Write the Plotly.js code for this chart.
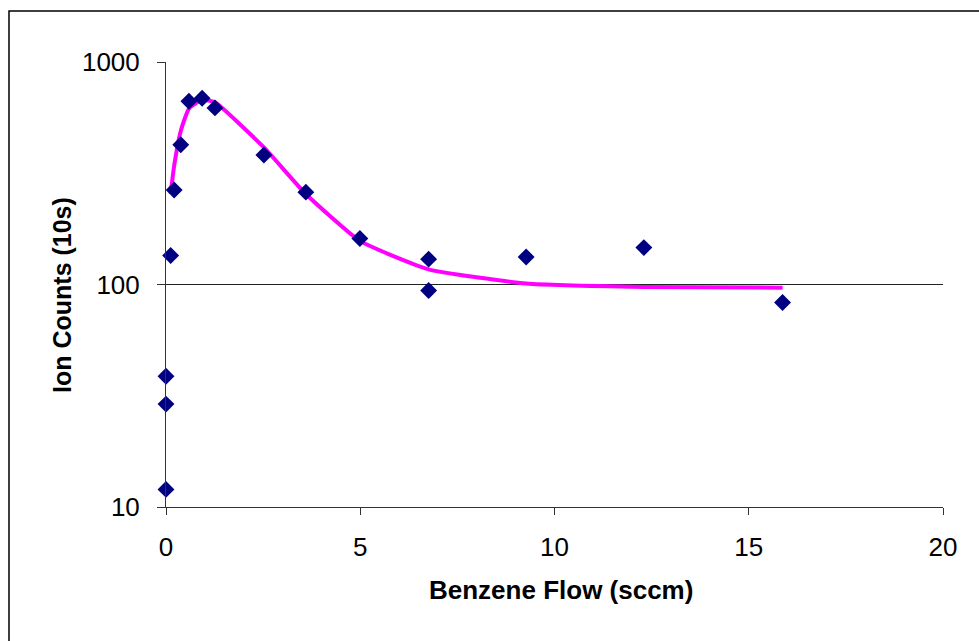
<!DOCTYPE html>
<html>
<head>
<meta charset="utf-8">
<script src="https://cdn.plot.ly/plotly-3.0.1.min.js"></script>
<style>
  html, body { margin: 0; padding: 0; background: #fff; }
  #chart { width: 979px; height: 641px; }
</style>
</head>
<body>
<div id="chart"></div>
<script>
// Measured data (Benzene flow in sccm, ion counts per 10 s)
const flowX = [0, 0, 0, 0.12, 0.21, 0.38, 0.59, 0.93, 1.26, 2.52, 3.60, 4.99, 6.76, 6.76, 9.27, 12.30, 15.87];
const ionCounts = [12, 29, 38.7, 135, 266, 425, 666, 687, 622, 382, 260, 161, 130, 94, 133, 146.5, 83];

// Smoothed trend line
const fitX = [0.12, 0.21, 0.38, 0.59, 0.93, 1.26, 2.52, 3.60, 4.99, 6.76, 9.27, 12.30, 15.87];
const fitY = [256, 342, 490, 617, 676, 659, 413, 255, 157, 117, 101, 97.5, 96.8];

const yTickVals = [10, 100, 1000];
const yTickText = ['10', '100', '1000'];
const xTickVals = [0, 5, 10, 15, 20];
const xTickText = ['0', '5', '10', '15', '20'];

const FONT = 'Liberation Sans, Arial, sans-serif';

const traces = [
  {
    x: fitX, y: fitY, mode: 'lines', type: 'scatter',
    line: { color: '#FF00FF', width: 4, shape: 'spline', smoothing: 0.45 },
    hoverinfo: 'skip', showlegend: false
  },
  {
    x: flowX, y: ionCounts, mode: 'markers', type: 'scatter',
    marker: { symbol: 'diamond', size: 13, color: '#000080' },
    showlegend: false, cliponaxis: false
  }
];

const L = 166, R = 943, T = 62, B = 507;
const W = R - L, H = B - T;
const px = v => (v - L) / W;
const py = v => (B - v) / H;

const layout = {
  width: 979, height: 641,
  margin: { l: L, r: 979 - R, t: T, b: 641 - B, pad: 0 },
  paper_bgcolor: '#ffffff', plot_bgcolor: '#ffffff',
  font: { family: FONT, color: '#000', size: 26 },
  showlegend: false,
  xaxis: {
    type: 'linear', range: [0, 20],
    tickvals: xTickVals, ticktext: xTickText,
    ticks: 'outside', ticklen: 7, tickwidth: 1, tickcolor: '#333',
    showline: true, linecolor: '#333', linewidth: 1,
    showgrid: false, zeroline: false,
    tickfont: { family: FONT, size: 26, color: '#000' },
    ticklabelstandoff: 10,
    fixedrange: true
  },
  yaxis: {
    type: 'log', range: [1, 3],
    tickvals: yTickVals, ticktext: yTickText,
    ticks: 'outside', ticklen: 8, tickwidth: 1, tickcolor: '#333',
    showline: true, linecolor: '#333', linewidth: 1,
    showgrid: true, gridcolor: '#222', gridwidth: 1,
    zeroline: false,
    tickfont: { family: FONT, size: 26, color: '#000' },
    ticklabelstandoff: 12,
    fixedrange: true
  },
  annotations: [
    {
      text: '<b>Benzene Flow (sccm)</b>', xref: 'paper', yref: 'paper',
      x: px(561), y: py(590), xanchor: 'center', yanchor: 'middle',
      showarrow: false, font: { family: FONT, size: 26, color: '#000' }
    },
    {
      text: '<b>Ion Counts (10s)</b>', xref: 'paper', yref: 'paper',
      x: px(62), y: py(295), xanchor: 'center', yanchor: 'middle',
      textangle: -90, showarrow: false, font: { family: FONT, size: 25, color: '#000' }
    }
  ],
  shapes: [
    {
      type: 'rect', xref: 'paper', yref: 'paper', layer: 'below',
      x0: px(9), x1: px(990), y0: py(660), y1: py(11),
      line: { color: '#000', width: 1.5 }, fillcolor: 'rgba(0,0,0,0)'
    }
  ]
};

Plotly.newPlot('chart', traces, layout, { displayModeBar: false, staticPlot: true });
</script>
</body>
</html>
